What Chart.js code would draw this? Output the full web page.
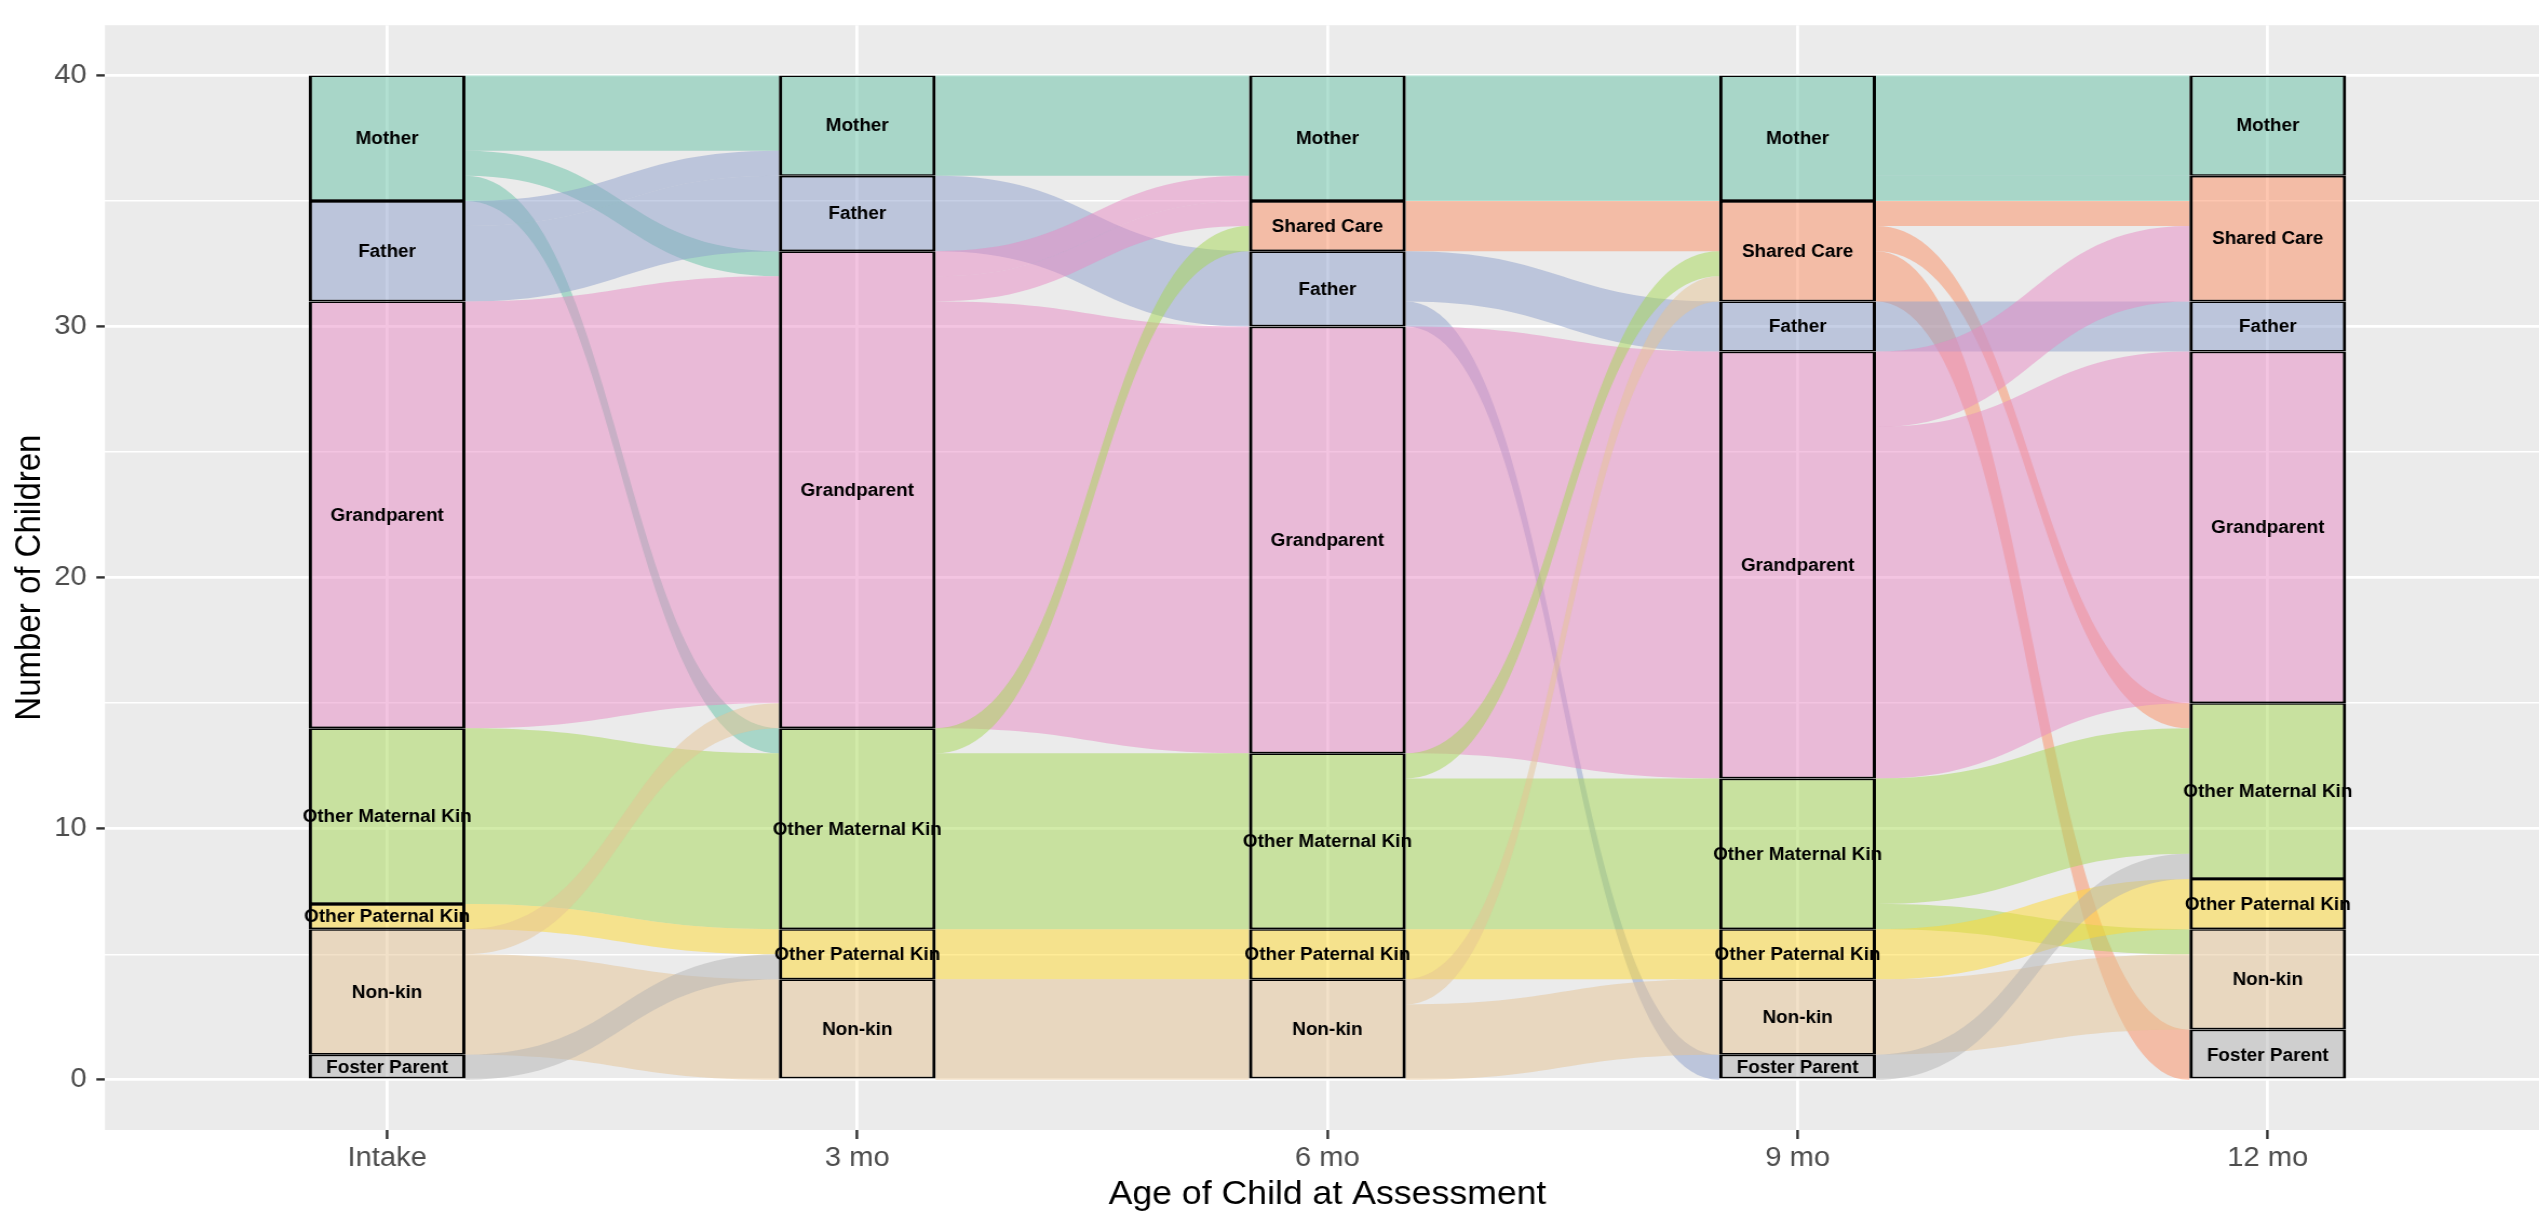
<!DOCTYPE html>
<html>
<head>
<meta charset="utf-8">
<script src="https://cdn.jsdelivr.net/npm/chart.js@4/dist/chart.umd.min.js"></script>
<style>
  html, body { margin: 0; padding: 0; background: #ffffff; overflow: hidden; width: 2539px; height: 1212px; }
  #wrap { position: absolute; left: 0; top: 0; width: 2361px; height: 1212px; transform: scaleX(1.08); transform-origin: 0 0; }
</style>
</head>
<body>
<div id="wrap"><canvas id="chart"></canvas></div>
<script>
// ---------------- data ----------------
const timepoints = ['Intake', '3 mo', '6 mo', '9 mo', '12 mo'];
const caregivers = ['Mother', 'Shared Care', 'Father', 'Grandparent', 'Other Maternal Kin', 'Other Paternal Kin', 'Non-kin', 'Foster Parent'];

// number of children with each caregiver at each assessment
const mother           = [5, 4, 5, 5, 4];
const sharedCare       = [0, 0, 2, 4, 5];
const father           = [4, 3, 3, 2, 2];
const grandparent      = [17, 19, 17, 17, 14];
const otherMaternalKin = [7, 8, 7, 6, 7];
const otherPaternalKin = [1, 2, 2, 2, 2];
const nonKin           = [5, 4, 4, 3, 4];
const fosterParent     = [1, 0, 0, 1, 2];

// transitions between consecutive assessments: [from, to, children]
const flowsIntakeTo3mo = [
  ['Mother', 'Mother', 3], ['Mother', 'Grandparent', 1], ['Mother', 'Other Maternal Kin', 1],
  ['Father', 'Mother', 1], ['Father', 'Father', 3],
  ['Grandparent', 'Grandparent', 17],
  ['Other Maternal Kin', 'Other Maternal Kin', 7],
  ['Other Paternal Kin', 'Other Paternal Kin', 1],
  ['Non-kin', 'Grandparent', 1], ['Non-kin', 'Non-kin', 4],
  ['Foster Parent', 'Other Paternal Kin', 1]
];
const flows3moTo6mo = [
  ['Mother', 'Mother', 4],
  ['Father', 'Father', 3],
  ['Grandparent', 'Mother', 1], ['Grandparent', 'Shared Care', 1], ['Grandparent', 'Grandparent', 17],
  ['Other Maternal Kin', 'Shared Care', 1], ['Other Maternal Kin', 'Other Maternal Kin', 7],
  ['Other Paternal Kin', 'Other Paternal Kin', 2],
  ['Non-kin', 'Non-kin', 4]
];
const flows6moTo9mo = [
  ['Mother', 'Mother', 5],
  ['Shared Care', 'Shared Care', 2],
  ['Father', 'Father', 2], ['Father', 'Foster Parent', 1],
  ['Grandparent', 'Grandparent', 17],
  ['Other Maternal Kin', 'Shared Care', 1], ['Other Maternal Kin', 'Other Maternal Kin', 6],
  ['Other Paternal Kin', 'Other Paternal Kin', 2],
  ['Non-kin', 'Shared Care', 1], ['Non-kin', 'Non-kin', 3]
];
const flows9moTo12mo = [
  ['Mother', 'Mother', 4], ['Mother', 'Shared Care', 1],
  ['Shared Care', 'Shared Care', 1], ['Shared Care', 'Other Maternal Kin', 1], ['Shared Care', 'Foster Parent', 2],
  ['Father', 'Father', 2],
  ['Grandparent', 'Shared Care', 3], ['Grandparent', 'Grandparent', 14],
  ['Other Maternal Kin', 'Other Maternal Kin', 5], ['Other Maternal Kin', 'Non-kin', 1],
  ['Other Paternal Kin', 'Other Paternal Kin', 2],
  ['Non-kin', 'Non-kin', 3],
  ['Foster Parent', 'Other Maternal Kin', 1]
];

const yTickValues = [0, 5, 10, 15, 20, 25, 30, 35, 40];
const yLabelValues = [0, 10, 20, 30, 40];

// ---------------- styles ----------------
const palette = ['#66C2A5', '#FC8D62', '#8DA0CB', '#E78AC3', '#A6D854', '#FFD92F', '#E5C494', '#B3B3B3'];
const fillAlpha = 0.5;
const stratumWidth = 1 / 3;
const FONT = 'Liberation Sans';

function rgba(hex, a) {
  const n = parseInt(hex.slice(1), 16);
  return `rgba(${(n >> 16) & 255},${(n >> 8) & 255},${n & 255},${a})`;
}

const counts = {
  'Mother': mother, 'Shared Care': sharedCare, 'Father': father, 'Grandparent': grandparent,
  'Other Maternal Kin': otherMaternalKin, 'Other Paternal Kin': otherPaternalKin,
  'Non-kin': nonKin, 'Foster Parent': fosterParent
};
const allFlows = [flowsIntakeTo3mo, flows3moTo6mo, flows6moTo9mo, flows9moTo12mo];
const idx = c => caregivers.indexOf(c);

// stack strata at each axis (first caregiver on top)
const bounds = timepoints.map((_, t) => {
  const b = {};
  let acc = 0;
  for (let i = caregivers.length - 1; i >= 0; i--) {
    const c = caregivers[i];
    const n = counts[c][t];
    b[c] = { lo: acc, hi: acc + n, n };
    acc += n;
  }
  return b;
});

function flowGeometry(k, flows) {
  const L = bounds[k], R = bounds[k + 1];
  const outTop = {}, inTop = {};
  caregivers.forEach(c => { outTop[c] = L[c].hi; inTop[c] = R[c].hi; });
  const res = flows.map(f => ({ from: f[0], to: f[1], n: f[2] }));
  [...res].sort((a, b) => idx(a.from) - idx(b.from) || idx(a.to) - idx(b.to)).forEach(f => {
    f.l1 = outTop[f.from]; f.l0 = f.l1 - f.n; outTop[f.from] = f.l0;
  });
  [...res].sort((a, b) => idx(a.to) - idx(b.to) || idx(a.from) - idx(b.from)).forEach(f => {
    f.r1 = inTop[f.to]; f.r0 = f.r1 - f.n; inTop[f.to] = f.r0;
  });
  return res;
}

const datasets = caregivers.map((c, i) => ({
  label: c,
  data: timepoints.map((_, t) => counts[c][t] > 0 ? { x: t, y: [bounds[t][c].lo, bounds[t][c].hi] } : null).filter(d => d),
  backgroundColor: rgba(palette[i], fillAlpha),
  borderColor: '#000000',
  borderWidth: { top: 1.7, bottom: 1.7, left: 3, right: 3 },
  borderSkipped: false,
  grouped: false,
  categoryPercentage: 1,
  barPercentage: stratumWidth
}));

const alluvialPlugin = {
  id: 'alluvial',
  beforeDraw(chart) {
    const { ctx, chartArea: a } = chart;
    ctx.save();
    ctx.fillStyle = '#EBEBEB';
    ctx.fillRect(a.left, a.top, a.right - a.left, a.bottom - a.top);
    ctx.restore();
  },
  beforeDatasetsDraw(chart) {
    const { ctx, chartArea: a, scales: { x, y } } = chart;
    ctx.save();
    ctx.beginPath();
    ctx.rect(a.left, a.top, a.right - a.left, a.bottom - a.top);
    ctx.clip();
    allFlows.forEach((flows, k) => {
      const x0 = x.getPixelForValue(k + stratumWidth / 2);
      const x1 = x.getPixelForValue(k + 1 - stratumWidth / 2);
      const xm = (x0 + x1) / 2;
      flowGeometry(k, flows).forEach(f => {
        const a0 = y.getPixelForValue(f.l1), b0 = y.getPixelForValue(f.l0);
        const a1 = y.getPixelForValue(f.r1), b1 = y.getPixelForValue(f.r0);
        ctx.beginPath();
        ctx.moveTo(x0, a0);
        ctx.bezierCurveTo(xm, a0, xm, a1, x1, a1);
        ctx.lineTo(x1, b1);
        ctx.bezierCurveTo(xm, b1, xm, b0, x0, b0);
        ctx.closePath();
        ctx.fillStyle = rgba(palette[idx(f.from)], fillAlpha);
        ctx.fill();
      });
    });
    ctx.restore();
  },
  afterDatasetsDraw(chart) {
    const { ctx, scales: { x, y } } = chart;
    ctx.save();
    ctx.font = `bold 17.5px "${FONT}"`;
    ctx.fillStyle = '#000000';
    ctx.textAlign = 'center';
    ctx.textBaseline = 'middle';
    timepoints.forEach((_, t) => {
      caregivers.forEach(c => {
        const b = bounds[t][c];
        if (b.n > 0) {
          ctx.fillText(c, x.getPixelForValue(t), y.getPixelForValue((b.lo + b.hi) / 2) + 1);
        }
      });
    });
    ctx.restore();
  }
};

new Chart(document.getElementById('chart'), {
  type: 'bar',
  data: { datasets },
  plugins: [alluvialPlugin],
  options: {
    responsive: true,
    maintainAspectRatio: false,
    devicePixelRatio: 1,
    animation: false,
    events: [],
    layout: { padding: { top: 9, right: 0, bottom: 0, left: 0 } },
    plugins: { legend: { display: false }, tooltip: { enabled: false } },
    scales: {
      x: {
        type: 'linear',
        offset: false,
        min: -0.6,
        max: 4.6,
        afterBuildTicks: s => { s.ticks = timepoints.map((_, i) => ({ value: i })); },
        afterFit: s => { s.height = 82; },
        border: { display: false },
        grid: { offset: false, color: '#FFFFFF', lineWidth: 2.8, drawTicks: true, tickLength: 9, tickColor: '#333333', tickWidth: 2.4 },
        ticks: {
          autoSkip: false, maxRotation: 0, padding: 3,
          color: '#4D4D4D', font: { family: FONT, size: 27 },
          callback: v => timepoints[v] ?? ''
        },
        title: { display: true, text: 'Age of Child at Assessment', color: '#000000', font: { family: FONT, size: 33, lineHeight: 1 }, padding: { top: 0, bottom: 1 } }
      },
      y: {
        type: 'linear',
        min: -2,
        max: 42,
        afterBuildTicks: s => { s.ticks = yTickValues.map(v => ({ value: v })); },
        afterFit: s => { s.width = 97.2; },
        border: { display: false },
        grid: {
          color: '#FFFFFF',
          lineWidth: c => (c.tick && yLabelValues.includes(c.tick.value)) ? 2.8 : 1.4,
          drawTicks: true, tickLength: 8,
          tickColor: c => (c.tick && yLabelValues.includes(c.tick.value)) ? '#333333' : 'rgba(0,0,0,0)',
          tickWidth: 2.4
        },
        ticks: {
          padding: 9, color: '#4D4D4D', font: { family: FONT, size: 27 },
          callback: v => yLabelValues.includes(v) ? String(v) : ''
        },
        title: { display: true, text: 'Number of Children', color: '#000000', font: { family: FONT, size: 33 }, padding: { top: 8, bottom: 0 } }
      }
    }
  }
});
</script>
</body>
</html>
